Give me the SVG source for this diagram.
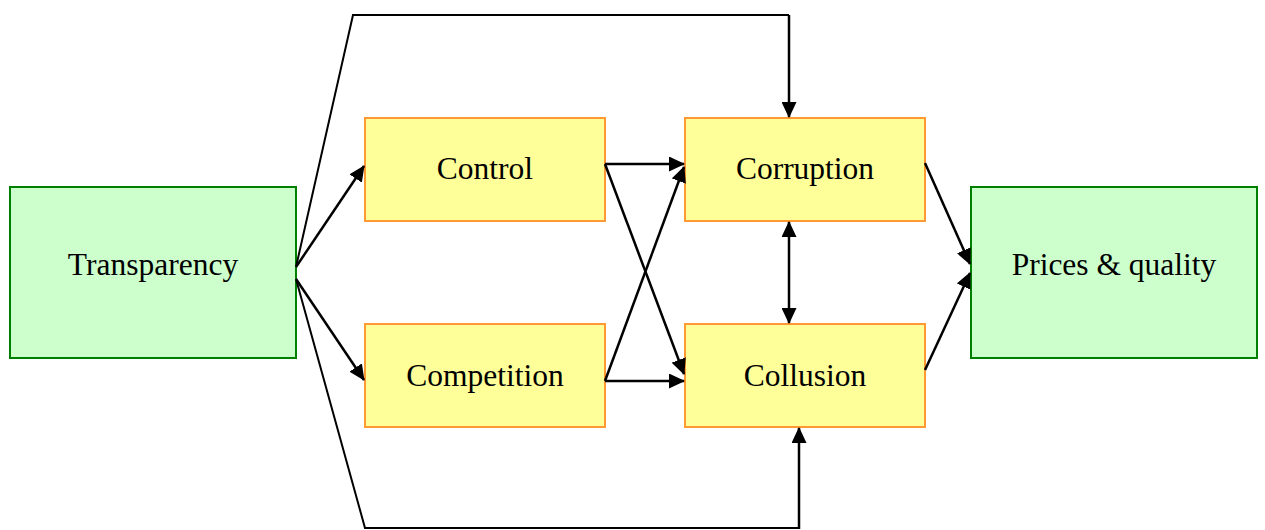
<svg xmlns="http://www.w3.org/2000/svg" width="1265" height="530" viewBox="0 0 1265 530">
<style>
.g{fill:#CCFFCC;stroke:#008000;stroke-width:2}
.y{fill:#FFFF99;stroke:#FF9933;stroke-width:2}
.t{font-family:"Liberation Serif","Times New Roman",serif;font-size:31.5px;fill:#000;text-anchor:middle}
.a{fill:none;stroke:#000;stroke-width:2.5}
.b{fill:none;stroke:#000;stroke-width:2}
</style>
<defs>
<marker id="ah" markerUnits="userSpaceOnUse" markerWidth="16" markerHeight="15" refX="15" refY="7.5" orient="auto-start-reverse" viewBox="0 0 16 15">
<path d="M0,0 L16,7.5 L0,15 Z" fill="#000"/>
</marker>
</defs>
<g id="transparency"><rect class="g" x="10" y="187" width="286" height="171"/><text class="t" x="153" y="275">Transparency</text></g>
<g id="control"><rect class="y" x="365" y="118" width="240" height="103"/><text class="t" x="485" y="179">Control</text></g>
<g id="competition"><rect class="y" x="365" y="324" width="240" height="103"/><text class="t" x="485" y="386">Competition</text></g>
<g id="corruption"><rect class="y" x="685" y="118" width="240" height="103"/><text class="t" x="805" y="179">Corruption</text></g>
<g id="collusion"><rect class="y" x="685" y="324" width="240" height="103"/><text class="t" x="805" y="386">Collusion</text></g>
<g id="prices"><rect class="g" x="971" y="187" width="286" height="171"/><text class="t" x="1114" y="275">Prices &amp; quality</text></g>
<g id="connectors">
<path class="b" d="M296,267 L353,15 L789,15"/>
<path class="a" d="M789,15 L789,117" marker-end="url(#ah)"/>
<path class="b" d="M296,279 L365,528 L799,528"/>
<path class="a" d="M799,529 L799,428" marker-end="url(#ah)"/>
<path class="a" d="M296,267 L364,166" marker-end="url(#ah)"/>
<path class="a" d="M296,279 L364,380" marker-end="url(#ah)"/>
<path class="a" d="M605,164 L684,164" marker-end="url(#ah)"/>
<path class="a" d="M605,164 L684,374" marker-end="url(#ah)"/>
<path class="a" d="M605,381 L684,381" marker-end="url(#ah)"/>
<path class="a" d="M605,381 L684,167" marker-end="url(#ah)"/>
<path class="a" d="M925,163 L970,264" marker-end="url(#ah)"/>
<path class="a" d="M925,370 L970,273" marker-end="url(#ah)"/>
<path class="a" d="M789,222 L789,323" marker-start="url(#ah)" marker-end="url(#ah)"/>
</g>
</svg>
